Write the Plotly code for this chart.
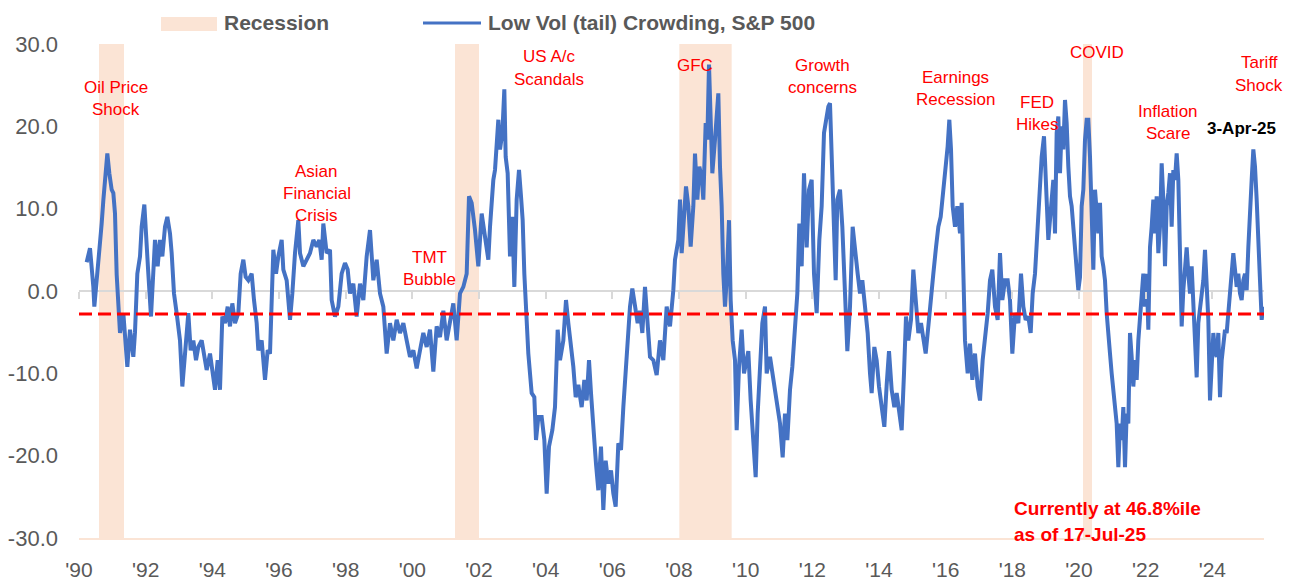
import plotly.graph_objects as go

# ---------------- data ----------------
dates_a = [1990.23, 1990.33, 1990.43, 1990.46, 1990.53, 1990.63, 1990.68, 1990.73, 1990.80, 1990.85,
           1990.91, 1990.98, 1991.03, 1991.08, 1991.13, 1991.18, 1991.23, 1991.33, 1991.38, 1991.45,
           1991.53, 1991.63, 1991.68, 1991.75, 1991.83, 1991.88, 1991.96, 1992.01, 1992.08, 1992.16,
           1992.23, 1992.28, 1992.36, 1992.43, 1992.50, 1992.58, 1992.65, 1992.73, 1992.78, 1992.85,
           1992.93, 1993.03, 1993.10, 1993.18, 1993.28, 1993.35, 1993.43, 1993.51, 1993.58, 1993.68,
           1993.76, 1993.83, 1993.93, 1994.00, 1994.08, 1994.16, 1994.23, 1994.30, 1994.38, 1994.46,
           1994.53, 1994.60, 1994.68, 1994.78, 1994.85, 1994.93, 1995.00, 1995.08, 1995.18, 1995.25,
           1995.33, 1995.38, 1995.48, 1995.58, 1995.66]
crowding_a = [3.5, 5.2, 0.5, -1.9, 1.3, 5.4, 8.2, 11.0, 15.0, 16.7,
              14.3, 12.3, 11.9, 9.4, 2.0, -1.9, -5.1, -2.7, -6.0, -9.2,
              -4.7, -8.0, -5.0, 2.1, 4.2, 7.8, 10.5, 6.2, 2.1, -3.1,
              2.1, 6.2, 3.0, 6.2, 4.2, 7.8, 9.0, 7.0, 4.6, -0.3,
              -2.7, -6.0, -11.6, -8.0, -2.7, -7.2, -6.0, -8.4, -6.8, -6.0,
              -8.0, -9.6, -7.6, -10.0, -12.0, -8.4, -12.0, -3.1, -3.9, -1.9,
              -4.3, -1.5, -3.9, -2.7, 2.1, 3.8, 1.7, 1.3, 2.1, -1.1,
              -3.9, -7.2, -6.0, -10.8, -7.2]

dates_b = [1995.73, 1995.78, 1995.83, 1995.91, 1995.98, 1996.08, 1996.13, 1996.23, 1996.33, 1996.40,
           1996.48, 1996.58, 1996.63, 1996.73, 1996.83, 1996.93, 1997.03, 1997.13, 1997.21, 1997.28,
           1997.33, 1997.43, 1997.53, 1997.58, 1997.68, 1997.78, 1997.88, 1997.98, 1998.06, 1998.13,
           1998.23, 1998.33, 1998.43, 1998.53, 1998.63, 1998.73, 1998.83, 1998.93, 1999.03, 1999.13,
           1999.23, 1999.33, 1999.43, 1999.53, 1999.63, 1999.73, 1999.83, 1999.93, 2000.03, 2000.13,
           2000.23, 2000.33, 2000.43, 2000.53, 2000.63, 2000.73, 2000.83, 2000.93, 2001.03, 2001.13,
           2001.23, 2001.33, 2001.43, 2001.53]
crowding_b = [-7.6, -1.9, 5.0, 2.1, 4.2, 6.2, 2.6, 1.3, -3.5, -0.3,
              4.6, 8.6, 4.6, 3.0, 3.8, 4.6, 6.2, 5.4, 6.2, 3.8,
              8.2, 4.6, 5.0, -1.1, -3.1, -1.9, 2.1, 3.4, 2.6, -0.3,
              0.9, -3.1, 0.9, -1.1, 4.2, 7.4, 1.3, 3.8, -0.3, -1.9,
              -7.6, -3.9, -6.0, -3.5, -5.1, -3.9, -6.0, -8.0, -7.2, -9.4,
              -7.2, -5.1, -6.8, -4.7, -9.8, -4.3, -5.6, -2.4, -6.0, -3.5,
              -1.5, -6.0, -0.3, 0.5]

dates_c = [2001.63, 2001.70, 2001.78, 2001.88, 2001.98, 2002.08, 2002.18, 2002.28, 2002.33, 2002.38,
           2002.43, 2002.48, 2002.58, 2002.63, 2002.70, 2002.76, 2002.80, 2002.86, 2002.93, 2003.00,
           2003.06, 2003.13, 2003.20, 2003.26, 2003.31, 2003.36, 2003.41, 2003.48, 2003.58, 2003.66,
           2003.71, 2003.78, 2003.88, 2003.96, 2004.03, 2004.10, 2004.20, 2004.28, 2004.36, 2004.43,
           2004.53, 2004.61, 2004.68, 2004.76, 2004.83, 2004.90, 2004.98, 2005.08, 2005.16, 2005.23,
           2005.30, 2005.36, 2005.43, 2005.51, 2005.58, 2005.66, 2005.73, 2005.80, 2005.88, 2005.96,
           2006.03, 2006.10, 2006.18, 2006.26, 2006.33, 2006.40, 2006.46, 2006.53, 2006.60, 2006.68,
           2006.76, 2006.83, 2006.90, 2006.98, 2007.06, 2007.13, 2007.23, 2007.33]
crowding_c = [2.1, 11.5, 10.7, 7.4, 3.0, 9.4, 6.2, 3.8, 7.8, 11.5,
              13.5, 14.7, 20.8, 17.2, 19.2, 24.5, 16.3, 14.3, 4.2, 9.0,
              0.5, 11.1, 14.7, 11.5, 8.6, 2.1, -1.9, -7.6, -12.4, -12.9,
              -18.1, -15.3, -15.3, -18.1, -24.6, -18.9, -16.9, -14.1, -4.7, -8.4,
              -6.0, -1.1, -3.9, -6.8, -9.2, -12.9, -11.4, -14.1, -10.8, -13.3,
              -8.4, -12.4, -16.9, -21.0, -24.2, -18.9, -26.6, -20.6, -23.4, -21.8,
              -24.6, -26.2, -18.5, -19.3, -14.1, -10.0, -6.0, -1.9, 0.3, -1.5,
              -3.9, -2.4, -5.1, 0.5, -4.3, -8.0, -8.4, -10.2]

dates_d = [2007.43, 2007.53, 2007.63, 2007.73, 2007.83, 2007.88, 2007.98, 2008.03, 2008.08, 2008.15,
           2008.21, 2008.28, 2008.35, 2008.43, 2008.48, 2008.55, 2008.61, 2008.68, 2008.73, 2008.80,
           2008.85, 2008.90, 2008.95, 2009.00, 2009.08, 2009.13, 2009.18, 2009.23, 2009.28, 2009.33,
           2009.38, 2009.43, 2009.50, 2009.55, 2009.61, 2009.68, 2009.73, 2009.80, 2009.88, 2009.95,
           2010.03, 2010.08, 2010.15, 2010.23, 2010.30, 2010.36, 2010.43, 2010.50, 2010.58, 2010.63,
           2010.73, 2010.83, 2010.93, 2011.03, 2011.11, 2011.18, 2011.25, 2011.33, 2011.40, 2011.48,
           2011.55, 2011.61, 2011.68, 2011.75, 2011.83, 2011.90, 2011.98, 2012.05, 2012.13, 2012.21,
           2012.28, 2012.35, 2012.41, 2012.48, 2012.53, 2012.58, 2012.65, 2012.70, 2012.75, 2012.83,
           2012.90, 2012.98, 2013.05, 2013.13, 2013.21]
crowding_d = [-6.0, -8.4, -1.9, -4.3, 0.1, 3.8, 6.2, 11.1, 4.6, 9.0,
              12.7, 10.3, 5.4, 10.3, 16.7, 11.1, 15.1, 13.9, 11.1, 20.4,
              18.4, 27.5, 20.4, 14.3, 18.4, 22.4, 24.0, 15.1, 10.3, 2.1,
              -1.9, 1.3, 8.6, -1.1, -6.0, -8.4, -16.9, -9.2, -4.7, -10.0,
              -8.0, -7.3, -13.3, -19.3, -22.6, -14.9, -8.0, -3.9, -1.9, -10.0,
              -8.0, -10.8, -13.3, -16.1, -20.2, -14.9, -18.1, -12.0, -9.2, -4.7,
              -0.3, 8.2, 3.0, 14.3, 5.3, 12.3, 13.5, 2.1, -2.7, 6.2,
              10.3, 19.2, 20.8, 22.4, 22.8, 17.2, 8.2, 1.3, 11.1, 12.3,
              7.8, 0.1, -7.3, -1.9, 7.8]

dates_e = [2013.36, 2013.43, 2013.50, 2013.58, 2013.66, 2013.73, 2013.78, 2013.86, 2013.93, 2014.00,
           2014.08, 2014.16, 2014.23, 2014.30, 2014.38, 2014.46, 2014.53, 2014.61, 2014.68, 2014.75,
           2014.81, 2014.88, 2014.96, 2015.03, 2015.10, 2015.18, 2015.26, 2015.33, 2015.40, 2015.48,
           2015.56, 2015.63, 2015.71, 2015.78, 2015.85, 2015.93, 2016.00, 2016.06, 2016.11, 2016.16,
           2016.21, 2016.28, 2016.35, 2016.43, 2016.48, 2016.53, 2016.58, 2016.66, 2016.73, 2016.80,
           2016.88, 2016.96, 2017.03, 2017.11, 2017.18, 2017.26, 2017.33, 2017.40, 2017.48, 2017.56,
           2017.63, 2017.70, 2017.78, 2017.86, 2017.93, 2018.00, 2018.08, 2018.18, 2018.26, 2018.33,
           2018.40, 2018.48, 2018.55, 2018.61, 2018.68, 2018.75, 2018.81, 2018.88, 2018.95, 2019.01,
           2019.08]
crowding_e = [2.1, -0.3, 1.3, -1.9, -5.1, -10.0, -12.4, -6.8, -8.4, -11.6,
              -14.1, -16.5, -11.4, -7.3, -12.0, -14.1, -12.4, -15.3, -16.9, -10.0,
              -3.1, -6.0, -3.5, 2.6, -1.9, -5.1, -3.9, -6.0, -7.6, -4.3,
              -0.3, 2.1, 5.3, 7.8, 9.0, 12.3, 14.3, 17.6, 20.8, 17.2,
              10.3, 7.8, 10.3, 7.0, 10.7, 2.1, -6.0, -10.0, -6.4, -10.8,
              -7.6, -11.6, -13.3, -8.4, -6.0, -2.7, 1.3, 2.6, -1.9, -3.5,
              4.6, -1.1, 1.3, 1.3, -1.1, -7.6, -2.7, -3.9, 2.1, -1.9,
              -3.5, -3.1, -5.1, -0.3, 2.1, 7.8, 10.3, 16.3, 18.8, 13.5,
              6.2]

dates_f = [2019.18, 2019.23, 2019.28, 2019.33, 2019.38, 2019.43, 2019.48, 2019.53, 2019.58, 2019.63,
           2019.68, 2019.73, 2019.78, 2019.83, 2019.88, 2019.93, 2019.98, 2020.03, 2020.08, 2020.13,
           2020.18, 2020.23, 2020.28, 2020.33, 2020.38, 2020.43, 2020.48, 2020.53, 2020.58, 2020.63,
           2020.68, 2020.73, 2020.78, 2020.83, 2020.88, 2020.93, 2020.98, 2021.03, 2021.08, 2021.13,
           2021.18, 2021.23, 2021.28, 2021.33, 2021.38, 2021.43, 2021.48, 2021.53, 2021.58, 2021.63,
           2021.68, 2021.73, 2021.78, 2021.83, 2021.88, 2021.93, 2021.98, 2022.03, 2022.08, 2022.13,
           2022.18, 2022.23, 2022.28, 2022.33, 2022.38, 2022.43, 2022.48, 2022.53, 2022.58, 2022.63,
           2022.68, 2022.73, 2022.78, 2022.83, 2022.88, 2022.93, 2022.98, 2023.03, 2023.08, 2023.13,
           2023.18, 2023.23, 2023.28, 2023.33, 2023.38, 2023.43, 2023.48, 2023.53, 2023.58, 2023.63,
           2023.68, 2023.73, 2023.78, 2023.83, 2023.88, 2023.93, 2023.98, 2024.03, 2024.08, 2024.13,
           2024.18, 2024.23, 2024.28, 2024.33, 2024.38, 2024.43, 2024.48, 2024.53, 2024.58, 2024.63,
           2024.68, 2024.73, 2024.78, 2024.83, 2024.88, 2024.93, 2024.98, 2025.03, 2025.08, 2025.13,
           2025.18, 2025.23, 2025.28, 2025.33, 2025.38, 2025.43, 2025.48, 2025.53]
crowding_f = [11.1, 13.5, 7.0, 19.2, 21.2, 14.3, 20.0, 17.2, 23.2, 20.4,
              15.1, 11.5, 10.3, 7.8, 4.2, 2.1, 0.1, 1.7, 10.3, 12.3,
              18.4, 20.8, 20.8, 16.3, 10.3, 2.6, 12.3, 9.4, 7.0, 10.7,
              4.2, 3.0, 1.3, -2.7, -6.0, -7.6, -10.0, -12.0, -14.1, -16.1,
              -21.4, -16.1, -18.1, -14.1, -21.4, -14.9, -16.1, -5.1, -8.0, -11.6,
              -8.4, -10.8, -6.0, -3.5, -0.7, 2.1, -1.9, 2.1, -4.7, 5.3,
              7.8, 11.1, 7.0, 11.5, 4.6, 7.8, 15.5, 11.1, 3.0, 10.3,
              11.9, 14.3, 7.8, 14.7, 13.5, 16.7, 13.5, 0.9, -4.3, 0.1,
              3.0, 5.3, 2.1, -0.3, 3.0, -1.9, -6.0, -10.5, -3.9, -1.9,
              -0.3, 1.3, 5.0, -0.3, -3.5, -13.3, -8.0, -5.1, -7.3, -8.0,
              -5.1, -12.9, -8.4, -6.0, -4.7, -5.1, -2.7, -0.3, 1.3, 4.6,
              2.6, 0.5, 2.1, -0.3, -1.1, 1.3, 2.1, 0.1, 5.3, 11.1,
              13.5, 17.2, 15.1, 11.1, 4.2, 1.3, -3.5, -1.9]

recession_start = [1990.60, 2001.28, 2008.01, 2020.12]
recession_end = [1991.35, 2002.00, 2009.58, 2020.39]
threshold_level = -2.8
tick_years = list(range(1990, 2025, 2))
tick_labels = ["'" + str(y)[2:] for y in tick_years]
y_ticks = [-30, -20, -10, 0, 10, 20, 30]
y_tick_labels = ["%.1f" % v for v in y_ticks]

dates = dates_a + dates_b + dates_c + dates_d + dates_e + dates_f
crowding = crowding_a + crowding_b + crowding_c + crowding_d + crowding_e + crowding_f

# ---------------- styling ----------------
W, H = 1290, 580
L, R, T, B = 79, 26, 44, 42
X_RANGE = [1990, 2025.55]
BLUE = "#4472C4"
PEACH = "#FBE4D5"
RED = "#FF0000"
GREY_TXT = "#595959"
GREY_LINE = "#D9D9D9"
FONT = "Liberation Sans, Arial, sans-serif"

def px_x(px):
    return (px - L) / (W - L - R)

def px_y(py):
    return (H - B - py) / (H - T - B)

fig = go.Figure()
fig.add_trace(go.Scatter(x=dates, y=crowding, mode="lines",
                         line=dict(color=BLUE, width=4), showlegend=False,
                         hoverinfo="skip"))
# red dashed reference level, drawn on the overlay axis (which also carries the zero-line ticks)
fig.add_trace(go.Scatter(x=X_RANGE, y=[threshold_level, threshold_level], xaxis="x2",
                         mode="lines", line=dict(color=RED, width=3, dash="13px,6px"),
                         showlegend=False, hoverinfo="skip"))

shapes = []
for s, e in zip(recession_start, recession_end):
    shapes.append(dict(type="rect", xref="x", yref="paper", x0=s, x1=e, y0=0, y1=1,
                       fillcolor=PEACH, line=dict(width=0), layer="below"))
# manual legend
shapes.append(dict(type="rect", xref="paper", yref="paper",
                   x0=px_x(161), x1=px_x(217), y0=px_y(31), y1=px_y(17),
                   fillcolor=PEACH, line=dict(width=0)))
shapes.append(dict(type="line", xref="paper", yref="paper",
                   x0=px_x(423), x1=px_x(481), y0=px_y(23), y1=px_y(23),
                   line=dict(color=BLUE, width=3)))

annotations = [
    dict(text="<b>Recession</b>", x=px_x(222), y=px_y(23), xanchor="left",
         font=dict(size=21, color=GREY_TXT)),
    dict(text="<b>Low Vol (tail) Crowding, S&P 500</b>", x=px_x(486), y=px_y(23),
         xanchor="left", font=dict(size=21, color=GREY_TXT)),
]
for a in annotations:
    a.update(xref="paper", yref="paper", yanchor="middle", showarrow=False)

# event labels: (lines, x in years, y pixel of first line)
events = [
    (["Oil Price", "Shock"], 1991.11, 87),
    (["Asian", "Financial", "Crisis"], 1997.13, 171),
    (["TMT", "Bubble"], 2000.50, 257),
    (["US A/c", "Scandals"], 2004.10, 57),
    (["GFC"], 2008.48, 65),
    (["Growth", "concerns"], 2012.29, 65),
    (["Earnings", "Recession"], 2016.28, 77),
    (["FED", "Hikes"], 2018.74, 102),
    (["COVID"], 2020.54, 52),
    (["Inflation", "Scare"], 2022.67, 111),
    (["Tariff", "Shock"], 2025.40, 63),
]
for lines, xx, py in events:
    for i, ln in enumerate(lines):
        annotations.append(dict(text=ln, x=xx, xref="x", y=px_y(py + i * 22.5), yref="paper",
                                xanchor="center", yanchor="middle", showarrow=False,
                                font=dict(size=17, color=RED)))
annotations.append(dict(text="<b>3-Apr-25</b>", x=2024.86, xref="x", y=px_y(128), yref="paper",
                        xanchor="center", yanchor="middle", showarrow=False,
                        font=dict(size=17, color="#000000")))
for i, ln in enumerate(["Currently at 46.8%ile", "as of 17-Jul-25"]):
    annotations.append(dict(text="<b>" + ln + "</b>", x=2017.99, xref="x", y=px_y(508 + i * 26),
                            yref="paper", xanchor="left", yanchor="middle", showarrow=False,
                            font=dict(size=19, color=RED)))

fig.update_layout(
    width=W, height=H,
    margin=dict(l=L, r=R, t=T, b=B, pad=0),
    paper_bgcolor="white", plot_bgcolor="white",
    font=dict(family=FONT, color=GREY_TXT),
    showlegend=False,
    shapes=shapes,
    annotations=annotations,
    xaxis=dict(range=X_RANGE, tickmode="array", tickvals=tick_years, ticktext=tick_labels,
               showgrid=False, zeroline=False, showline=True, linecolor=PEACH, linewidth=2,
               ticks="", tickfont=dict(size=21, color=GREY_TXT), ticklabelstandoff=12,
               automargin=False, fixedrange=True),
    xaxis2=dict(range=X_RANGE, overlaying="x", anchor="free", position=0.5, side="bottom",
                tickmode="array", tickvals=tick_years, showticklabels=False,
                ticks="outside", ticklen=7, tickwidth=2, tickcolor=GREY_LINE,
                showline=False, showgrid=False, zeroline=False,
                automargin=False, fixedrange=True),
    yaxis=dict(range=[-30, 30], tickmode="array", tickvals=y_ticks, ticktext=y_tick_labels,
               showgrid=False, zeroline=True, zerolinecolor=GREY_LINE, zerolinewidth=2,
               showline=False, ticks="",
               tickfont=dict(size=22, color=GREY_TXT), ticklabelstandoff=20,
               automargin=False, fixedrange=True),
)

fig.write_html("out.html", config={"displayModeBar": False},
               post_script="document.body.style.margin='0';document.body.style.overflow='hidden';")
